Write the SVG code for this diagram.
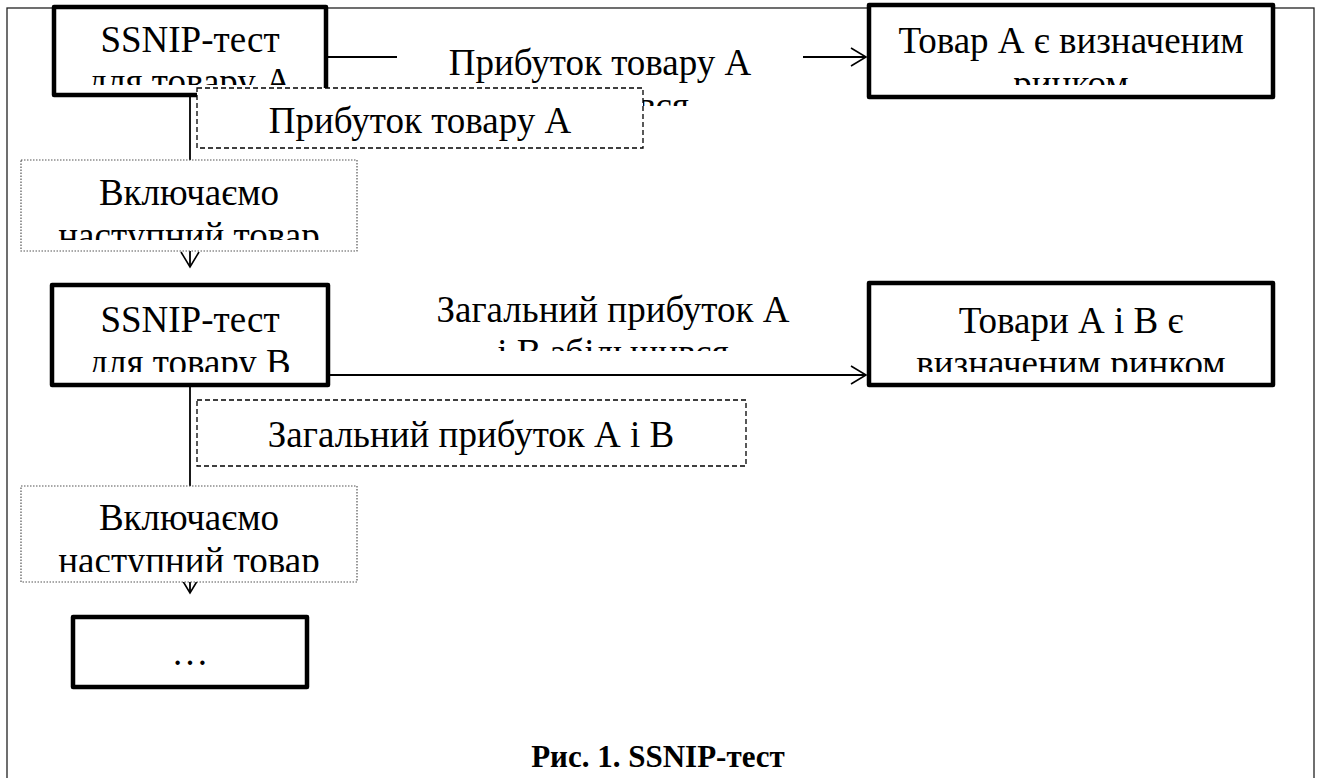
<svg xmlns="http://www.w3.org/2000/svg" width="1323" height="778" viewBox="0 0 1323 778">
<style>
  text { font-family: "Liberation Serif", "Times New Roman", serif; fill: #000; }
  .t { font-size: 37px; text-anchor: middle; }
  .thick { fill: #fff; stroke: #000; stroke-width: 4.5; stroke-linejoin: round; }
  .dashed { fill: #fff; stroke: #000; stroke-width: 1.3; stroke-dasharray: 5 3; }
  .dotted { fill: #fff; stroke: #555; stroke-width: 1.2; stroke-dasharray: 1.5 1.5; }
  .conn { fill: none; stroke: #000; stroke-width: 1.8; }
  .cap { font-size: 31px; font-weight: bold; text-anchor: middle; }
</style>
<defs>
  <marker id="arr" markerUnits="userSpaceOnUse" viewBox="-16 -10 18 20" refX="0" refY="0" markerWidth="18" markerHeight="20" orient="auto" overflow="visible">
    <path d="M-15,-9 L0,0 L-15,9" fill="none" stroke="#000" stroke-width="1.6"/>
  </marker>
  <clipPath id="c1"><rect x="56" y="9" width="268" height="76"/></clipPath>
  <clipPath id="c2"><rect x="871" y="7" width="400" height="78"/></clipPath>
  <clipPath id="c3"><rect x="22" y="161" width="334" height="79"/></clipPath>
  <clipPath id="c4"><rect x="54" y="287" width="272" height="85"/></clipPath>
  <clipPath id="c5"><rect x="871" y="285" width="400" height="87"/></clipPath>
  <clipPath id="c6"><rect x="22" y="487" width="334" height="85"/></clipPath>
  <clipPath id="cl1"><rect x="397" y="20" width="406" height="86"/></clipPath>
  <clipPath id="cl2"><rect x="400" y="280" width="440" height="71"/></clipPath>
</defs>

<rect id="frame" x="7" y="8" width="1307" height="790" fill="#fff" stroke="#222" stroke-width="1.3"/>

<g id="connectors">
  <line class="conn" x1="328" y1="57" x2="866" y2="57" marker-end="url(#arr)"/>
  <line class="conn" x1="190" y1="97" x2="190" y2="267" marker-end="url(#arr)"/>
  <line class="conn" x1="330" y1="375" x2="866" y2="375" marker-end="url(#arr)"/>
  <line class="conn" x1="190" y1="387" x2="190" y2="593" marker-end="url(#arr)"/>
</g>

<g id="label-a">
  <rect x="397" y="20" width="406" height="86" fill="#fff"/>
  <g clip-path="url(#cl1)">
    <text class="t" x="600" y="75">Прибуток товару А</text>
    <text class="t" x="600" y="118">збільшився</text>
  </g>
</g>

<g id="label-b">
  <g clip-path="url(#cl2)">
    <text class="t" x="613" y="322">Загальний прибуток А</text>
    <text class="t" x="613" y="365">і В збільшився</text>
  </g>
</g>

<g id="ssnip-a">
  <rect class="thick" x="54" y="7" width="272" height="88"/>
  <g clip-path="url(#c1)">
    <text class="t" x="190" y="52">SSNIP-тест</text>
    <text class="t" x="190" y="94">для товару А</text>
  </g>
</g>

<g id="market-a">
  <rect class="thick" x="869" y="5" width="404" height="92"/>
  <g clip-path="url(#c2)">
    <text class="t" x="1071" y="53">Товар А є визначеним</text>
    <text class="t" x="1071" y="96">ринком</text>
  </g>
</g>

<g id="profit-a">
  <rect class="dashed" x="197" y="88" width="446" height="60"/>
  <text class="t" x="420" y="133">Прибуток товару А</text>
</g>

<g id="include-1">
  <rect class="dotted" x="21" y="160" width="336" height="91"/>
  <g clip-path="url(#c3)">
    <text class="t" x="189" y="205">Включаємо</text>
    <text class="t" x="189" y="248">наступний товар</text>
  </g>
</g>

<g id="ssnip-b">
  <rect class="thick" x="52" y="285" width="276" height="100"/>
  <g clip-path="url(#c4)">
    <text class="t" x="190" y="332">SSNIP-тест</text>
    <text class="t" x="190" y="375">для товару В</text>
  </g>
</g>

<g id="market-ab">
  <rect class="thick" x="869" y="283" width="404" height="102"/>
  <g clip-path="url(#c5)">
    <text class="t" x="1071" y="333">Товари А і В є</text>
    <text class="t" x="1071" y="376">визначеним ринком</text>
  </g>
</g>

<g id="profit-ab">
  <rect class="dashed" x="197" y="400" width="549" height="66"/>
  <text class="t" x="471" y="447">Загальний прибуток А і В</text>
</g>

<g id="include-2">
  <rect class="dotted" x="21" y="486" width="336" height="96"/>
  <g clip-path="url(#c6)">
    <text class="t" x="189" y="530">Включаємо</text>
    <text class="t" x="189" y="573">наступний товар</text>
  </g>
</g>

<g id="ellipsis">
  <rect class="thick" x="73" y="617" width="234" height="70"/>
  <text class="t" x="190" y="665">…</text>
</g>

<text id="caption" class="cap" x="658" y="767">Рис. 1. SSNIP-тест</text>
</svg>
